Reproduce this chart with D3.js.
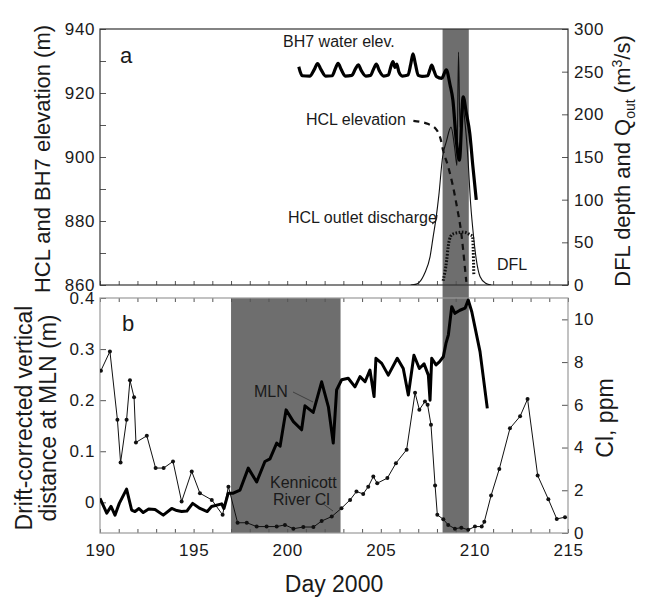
<!DOCTYPE html>
<html>
<head>
<meta charset="utf-8">
<script src="https://cdn.jsdelivr.net/npm/d3@7"></script>
<style>
  body { margin: 0; background: #fff; }
  svg text { font-family: "Liberation Sans", Arial, Helvetica, sans-serif; fill: #1a1a1a; }
</style>
</head>
<body>
<div id="chart"></div>
<script>
// panel a: BH7 borehole water elevation (m)
const bh7Day = [200.62, 200.8, 201.2, 201.45, 201.62, 201.8, 202.05, 202.4, 202.57, 202.72, 202.88, 203.1,
  203.45, 203.65, 203.8, 203.96, 204.2, 204.45, 204.62, 204.76, 204.92, 205.15, 205.4, 205.55, 205.65,
  205.75, 205.85, 205.97, 206.15, 206.45, 206.6, 206.72, 206.85, 207.0, 207.2, 207.5, 207.63, 207.72,
  207.85, 207.98, 208.25, 208.5, 208.7, 208.85, 209.03, 209.2, 209.4, 209.57, 209.75, 209.92, 210.1];
const bh7Elev = [928.2, 925.4, 925.3, 927.4, 929.2, 927.4, 925.3, 925.4, 927.6, 929.3, 927.4, 925.3,
  925.5, 927.6, 928.8, 927.0, 925.3, 925.5, 927.6, 929.0, 927.0, 925.3, 925.6, 928.5, 929.8,
  928.0, 929.0, 926.5, 925.3, 925.6, 929.0, 932.2, 929.0, 925.5, 925.2, 925.4, 927.4, 928.7,
  926.8, 925.1, 924.6, 927.2, 922.5, 917.8, 905.3, 899.0, 918.8, 913.7, 907.5, 897.0, 886.6];

// panel a: HCL lake elevation (m), dashed
const hclDay = [206.74, 207.54, 207.99, 208.2, 208.33, 208.6, 208.85, 209.08, 209.28, 209.4, 209.5, 209.57];
const hclElev = [911.3, 910.3, 908.4, 905.5, 902.0, 897.0, 891.0, 884.0, 877.0, 871.0, 865.0, 861.0];

// panel a: HCL outlet discharge (m3/s), right axis
const qDay = [206.6, 206.9, 207.05, 207.35, 207.63, 207.8, 207.95, 208.1, 208.3, 208.5, 208.75, 208.95,
  209.07, 209.15, 209.23, 209.35, 209.5, 209.65, 209.8, 209.95, 210.1, 210.3, 210.6, 210.9];
const qOut = [0, 1, 3, 14, 33, 57, 78, 105, 150, 168, 185, 160,
  140, 273, 185, 215, 190, 150, 95, 58, 30, 10, 2, 0];

// panel a: DFL depth, dotted, right axis
const dflDay = [208.33, 208.52, 208.6, 208.73, 208.87, 209.41, 209.76, 209.9, 209.97];
const dflDepth = [5, 29, 45, 57, 60, 62, 59, 57, 12];

// panel b: MLN drift-corrected vertical distance (m)
const mlnDay = [190.0, 190.36, 190.59, 190.8, 191.03, 191.42, 191.69, 191.87, 192.08, 192.31, 192.6, 192.94,
  193.38, 193.83, 194.1, 194.36, 194.64, 194.95, 195.34, 195.73, 195.96, 196.5, 196.62, 196.85, 197.12,
  197.48, 197.92, 198.37, 198.81, 199.08, 199.44, 199.62, 199.94, 200.33, 200.77, 200.95, 201.39, 201.84,
  202.2, 202.46, 202.64, 202.91, 203.26, 203.62, 203.89, 204.16, 204.42, 204.64, 204.74, 205.05, 205.4,
  205.88, 206.2, 206.47, 206.77, 207.06, 207.31, 207.54, 207.63, 207.72, 207.95, 208.13, 208.34, 208.48,
  208.61, 208.79, 208.96, 209.23, 209.5, 209.67, 209.86, 210.3, 210.69];
const mlnDisp = [0.008, -0.021, -0.008, -0.025, -0.002, 0.026, -0.015, -0.018, -0.012, -0.02, -0.013, -0.014,
  -0.025, -0.012, -0.016, -0.018, -0.017, -0.002, -0.012, -0.018, -0.008, -0.003, -0.012, 0.018, 0.018,
  0.024, 0.067, 0.04, 0.08, 0.085, 0.116, 0.11, 0.181, 0.158, 0.142, 0.189, 0.176, 0.236,
  0.187, 0.116, 0.22, 0.24, 0.243, 0.226, 0.246, 0.236, 0.259, 0.207, 0.282, 0.272, 0.249,
  0.282, 0.262, 0.21, 0.288, 0.262, 0.271, 0.249, 0.2, 0.282, 0.269, 0.275, 0.285, 0.311,
  0.328, 0.383, 0.37, 0.376, 0.38, 0.396, 0.373, 0.295, 0.184];

// panel b: Kennicott River Cl (ppm), right axis
const clDay = [190.05, 190.53, 190.93, 191.1, 191.42, 191.6, 191.82, 191.92, 192.5, 192.97, 193.4, 193.9,
  194.36, 194.9, 195.34, 195.97, 196.55, 196.86, 197.35, 197.84, 198.37, 198.9, 199.44, 199.88, 200.33,
  200.86, 201.4, 201.84, 202.38, 202.9, 203.36, 203.7, 204.06, 204.33, 204.6, 204.81, 205.35, 205.81,
  206.38, 206.83, 207.06, 207.36, 207.5, 207.68, 207.9, 208.02, 208.34, 208.6, 208.96, 209.3, 209.67,
  210.03, 210.39, 210.53, 210.89, 211.33, 211.9, 212.44, 212.84, 213.38, 213.95, 214.4, 214.84];
const clPpm = [7.6, 8.5, 5.3, 3.3, 5.3, 7.15, 6.35, 4.24, 4.55, 3.04, 3.04, 3.35,
  1.47, 2.88, 1.86, 1.55, 0.85, 2.17, 0.48, 0.48, 0.3, 0.3, 0.3, 0.38, 0.2,
  0.28, 0.28, 0.56, 0.77, 1.16, 1.55, 1.94, 1.83, 2.17, 2.64, 2.33, 2.57, 3.27,
  3.9, 6.56, 5.77, 6.16, 6.0, 5.07, 2.22, 0.85, 0.64, 0.38, 0.2, 0.25, 0.15,
  0.3, 0.3, 0.53, 1.75, 3.0, 4.9, 5.46, 6.27, 2.69, 1.58, 0.66, 0.74];

// shaded periods (day)
const floodBand = [208.3, 209.7];
const earlyBand = [197.0, 202.85];

const elevTicks = d3.range(860, 941, 10);
const qTicks = d3.range(0, 301, 50);
const mlnTicks = [0, 0.1, 0.2, 0.3, 0.4];
const clTicks = [0, 2, 4, 6, 8, 10];
const dayTicks = d3.range(190, 216, 1);

const W = 647, H = 598;
const PA = { top: 29, bottom: 285 };
const PB = { top: 298, bottom: 533 };
const LEFT = 100, RIGHT = 568;
const BAND = '#6e6e6e';

const svg = d3.select('#chart').append('svg').attr('width', W).attr('height', H);

const x = d3.scaleLinear().domain([190, 215]).range([LEFT, RIGHT]);
const yA = d3.scaleLinear().domain([860, 940]).range([PA.bottom, PA.top]);
const yAr = d3.scaleLinear().domain([0, 300]).range([PA.bottom, PA.top]);
const yB = d3.scaleLinear().domain([-0.06, 0.4]).range([PB.bottom, PB.top]);
const yBr = d3.scaleLinear().domain([0, 11]).range([PB.bottom, PB.top]);

const defs = svg.append('defs');
defs.append('clipPath').attr('id', 'clipA').append('rect')
  .attr('x', LEFT).attr('y', PA.top).attr('width', RIGHT - LEFT).attr('height', PA.bottom - PA.top);
defs.append('clipPath').attr('id', 'clipB').append('rect')
  .attr('x', LEFT).attr('y', PB.top).attr('width', RIGHT - LEFT).attr('height', PB.bottom - PB.top);

// shaded bands
svg.append('rect')
  .attr('x', x(floodBand[0])).attr('width', x(floodBand[1]) - x(floodBand[0]))
  .attr('y', PA.top).attr('height', PB.bottom - PA.top)
  .attr('fill', BAND);
svg.append('rect')
  .attr('x', x(earlyBand[0])).attr('width', x(earlyBand[1]) - x(earlyBand[0]))
  .attr('y', PB.top).attr('height', PB.bottom - PB.top)
  .attr('fill', BAND);

function tickText(sel) {
  sel.selectAll('text')
    .attr('font-size', '17px')
    .attr('letter-spacing', '0.6px')
    .attr('fill', '#1a1a1a');
  sel.selectAll('line').attr('stroke', '#555');
  sel.select('.domain').remove();
}

// panel a axes
svg.append('g').attr('transform', `translate(${LEFT},0)`)
  .call(d3.axisLeft(yA).tickValues(elevTicks).tickSize(-6).tickPadding(5)
    .tickFormat((d) => (d % 20 === 0 ? d : '')))
  .call(tickText);
svg.append('g').attr('transform', `translate(${RIGHT},0)`)
  .call(d3.axisRight(yAr).tickValues(qTicks).tickSize(-6).tickPadding(6))
  .call(tickText);
svg.append('g').attr('transform', `translate(0,${PA.bottom})`)
  .call(d3.axisBottom(x).tickValues(dayTicks).tickSize(-4).tickFormat(''))
  .call(tickText);

// panel b axes
svg.append('g').attr('transform', `translate(${LEFT},0)`)
  .call(d3.axisLeft(yB).tickValues(mlnTicks).tickSize(-6).tickPadding(5)
    .tickFormat((d) => (d === 0 ? '0' : d.toFixed(1))))
  .call(tickText);
svg.append('g').attr('transform', `translate(${RIGHT},0)`)
  .call(d3.axisRight(yBr).tickValues(clTicks).tickSize(-6).tickPadding(6))
  .call(tickText);
svg.append('g').attr('transform', `translate(0,${PB.top})`)
  .call(d3.axisTop(x).tickValues(dayTicks).tickSize(-4).tickFormat(''))
  .call(tickText);
svg.append('g').attr('transform', `translate(0,${PB.bottom})`)
  .call(d3.axisBottom(x).tickValues(dayTicks).tickSize(-4).tickPadding(11)
    .tickFormat((d) => (d % 5 === 0 ? d : '')))
  .call(tickText);

// panel frames
svg.append('rect')
  .attr('x', LEFT).attr('y', PA.top).attr('width', RIGHT - LEFT).attr('height', PA.bottom - PA.top)
  .attr('fill', 'none').attr('stroke', '#333').attr('stroke-width', 1.2);
svg.append('rect')
  .attr('x', LEFT).attr('y', PB.top).attr('width', RIGHT - LEFT).attr('height', PB.bottom - PB.top)
  .attr('fill', 'none').attr('stroke', '#9a9a9a').attr('stroke-width', 1.2);

const zip = (a, b) => a.map((v, i) => [v, b[i]]);

// panel a lines
const gA = svg.append('g').attr('clip-path', 'url(#clipA)');
const lineA = d3.line().x((d) => x(d[0])).y((d) => yA(d[1])).curve(d3.curveMonotoneX);
const lineAr = d3.line().x((d) => x(d[0])).y((d) => yAr(d[1]));

gA.append('path')
  .datum(zip(qDay, qOut))
  .attr('d', lineAr.curve(d3.curveMonotoneX))
  .attr('fill', 'none').attr('stroke', '#111').attr('stroke-width', 1.1);

gA.append('path')
  .datum(zip(dflDay, dflDepth))
  .attr('d', d3.line().x((d) => x(d[0])).y((d) => yAr(d[1])).curve(d3.curveMonotoneX))
  .attr('fill', 'none').attr('stroke', '#111').attr('stroke-width', 3)
  .attr('stroke-dasharray', '1.6,1.6');

gA.append('path')
  .datum(zip(hclDay, hclElev))
  .attr('d', lineA)
  .attr('fill', 'none').attr('stroke', '#111').attr('stroke-width', 2.2)
  .attr('stroke-dasharray', '6,5');

gA.append('path')
  .datum(zip(bh7Day, bh7Elev))
  .attr('d', lineA)
  .attr('fill', 'none').attr('stroke', '#000').attr('stroke-width', 3.2)
  .attr('stroke-linejoin', 'round');

// panel b lines
const gB = svg.append('g').attr('clip-path', 'url(#clipB)');
gB.append('path')
  .datum(zip(clDay, clPpm))
  .attr('d', d3.line().x((d) => x(d[0])).y((d) => yBr(d[1])))
  .attr('fill', 'none').attr('stroke', '#111').attr('stroke-width', 1);
gB.selectAll('circle.cl')
  .data(zip(clDay, clPpm))
  .join('circle')
  .attr('class', 'cl')
  .attr('cx', (d) => x(d[0])).attr('cy', (d) => yBr(d[1]))
  .attr('r', 2).attr('fill', '#111');

gB.append('path')
  .datum(zip(mlnDay, mlnDisp))
  .attr('d', d3.line().x((d) => x(d[0])).y((d) => yB(d[1])))
  .attr('fill', 'none').attr('stroke', '#000').attr('stroke-width', 3)
  .attr('stroke-linejoin', 'round');

// annotations
const note = (tx, ty, str, size = 16) =>
  svg.append('text').attr('x', tx).attr('y', ty).attr('font-size', size + 'px').text(str);

note(120, 63, 'a', 22);
note(122, 331, 'b', 22);
note(283, 47, 'BH7 water elev.');
note(306, 125, 'HCL elevation');
note(288, 223, 'HCL outlet discharge');
note(497, 270, 'DFL');
note(254, 397, 'MLN');
note(270, 488, 'Kennicott');
note(273, 505, 'River  Cl');

svg.append('path').attr('d', 'M432,224 Q437,222 437,215')
  .attr('fill', 'none').attr('stroke', '#111').attr('stroke-width', 1);
svg.append('line').attr('x1', 293).attr('y1', 392).attr('x2', 313).attr('y2', 402)
  .attr('stroke', '#333').attr('stroke-width', 0.8);
svg.append('line').attr('x1', 322).attr('y1', 503).attr('x2', 333).attr('y2', 511)
  .attr('stroke', '#333').attr('stroke-width', 0.8);

// axis titles
svg.append('text')
  .attr('transform', `translate(50,${(PA.top + PA.bottom) / 2 + 2}) rotate(-90)`)
  .attr('text-anchor', 'middle').attr('font-size', '22px')
  .text('HCL and BH7 elevation (m)');

const rt = svg.append('text')
  .attr('transform', `translate(630,${(PA.top + PA.bottom) / 2 + 4}) rotate(-90)`)
  .attr('text-anchor', 'middle').attr('font-size', '22px');
rt.append('tspan').text('DFL depth and Q');
rt.append('tspan').attr('font-size', '14px').attr('dy', '5').text('out');
rt.append('tspan').attr('dy', '-5').text(' (m');
rt.append('tspan').attr('font-size', '14px').attr('dy', '-8').text('3');
rt.append('tspan').attr('dy', '8').text('/s)');

const lt = svg.append('text')
  .attr('transform', `translate(0,418) rotate(-90)`)
  .attr('text-anchor', 'middle').attr('font-size', '23px');
lt.append('tspan').attr('x', 0).attr('y', 32).text('Drift-corrected vertical');
lt.append('tspan').attr('x', 0).attr('y', 56).text('distance at MLN (m)');

svg.append('text')
  .attr('transform', `translate(613,418) rotate(-90)`)
  .attr('text-anchor', 'middle').attr('font-size', '23px')
  .text('Cl, ppm');

svg.append('text')
  .attr('x', 334).attr('y', 592)
  .attr('text-anchor', 'middle').attr('font-size', '23px')
  .text('Day 2000');
</script>
</body>
</html>
